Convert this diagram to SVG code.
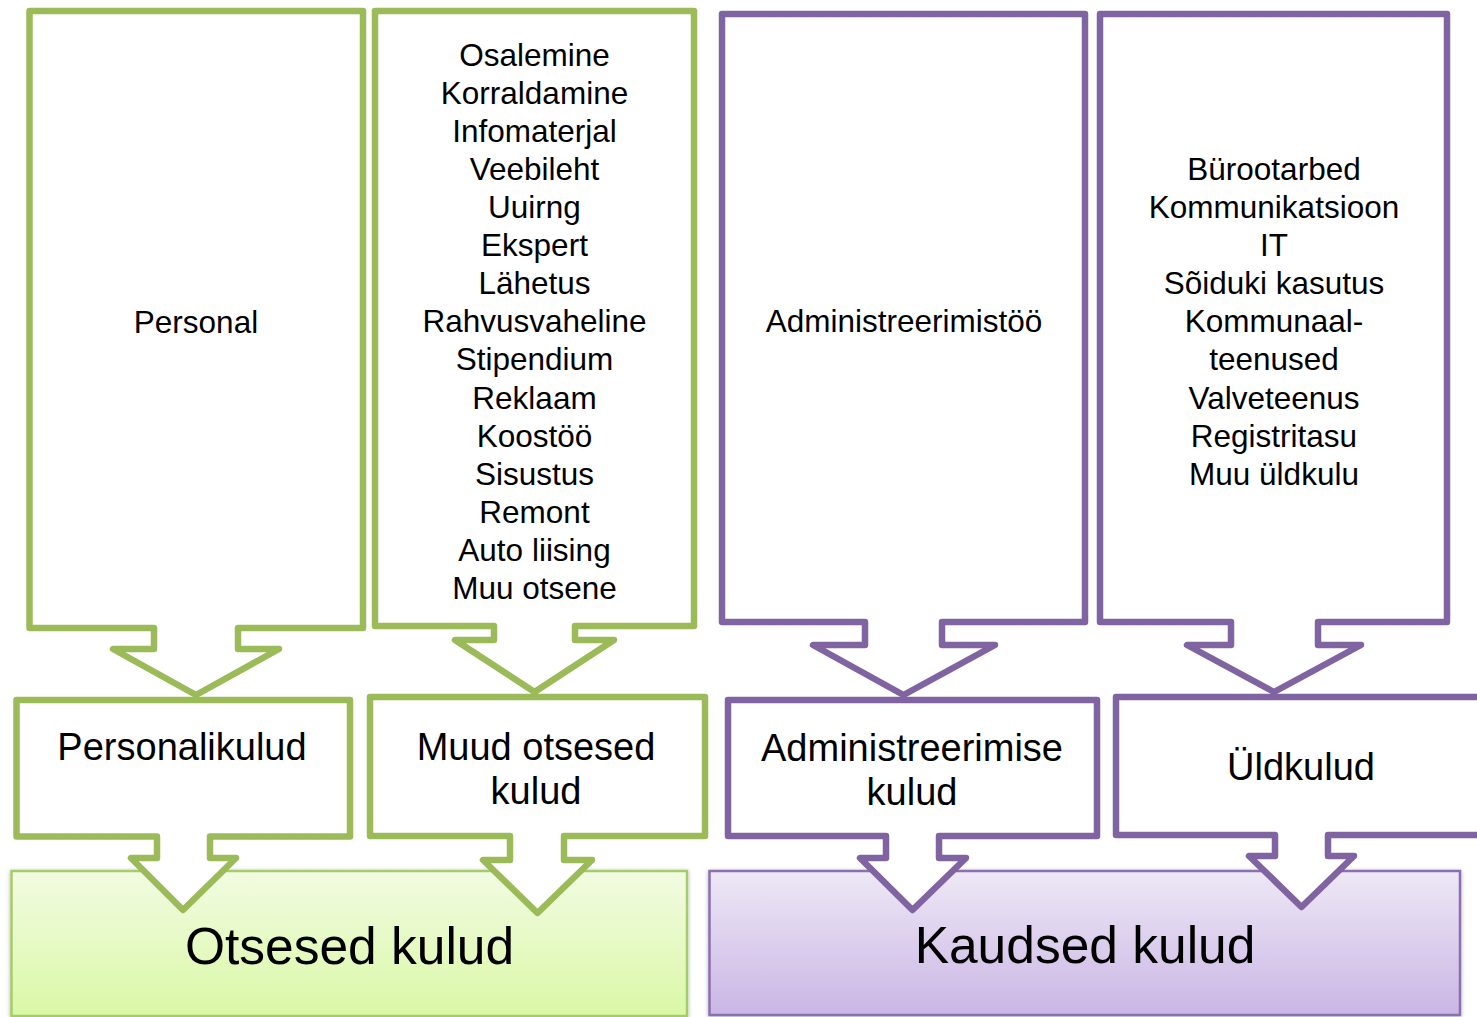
<svg xmlns="http://www.w3.org/2000/svg" width="1477" height="1017" viewBox="0 0 1477 1017">
<defs>
<linearGradient id="gGreen" x1="0" y1="0" x2="0" y2="1">
<stop offset="0" stop-color="#F2FBE2"/>
<stop offset="1" stop-color="#DAF8A6"/>
</linearGradient>
<linearGradient id="gPurple" x1="0" y1="0" x2="0" y2="1">
<stop offset="0" stop-color="#EEE8F6"/>
<stop offset="1" stop-color="#CAB6E5"/>
</linearGradient>
<filter id="shadow" x="-5%" y="-10%" width="110%" height="120%">
<feDropShadow dx="0" dy="1" stdDeviation="2" flood-color="#000" flood-opacity="0.3"/>
</filter>
</defs>
<style>
.cg{fill:#FFFFFF;stroke:#9BBB59;stroke-width:6.5;stroke-linejoin:round}
.cp{fill:#FFFFFF;stroke:#8064A2;stroke-width:6.5;stroke-linejoin:round}
.t{font-family:"Liberation Sans",Arial,sans-serif;fill:#000;text-anchor:middle}
.s{font-size:31.5px}
.m{font-size:38px}
.l{font-size:51.5px}
</style>
<rect width="1477" height="1017" fill="#FFFFFF"/>
<g id="otsesed-kulud">
<rect x="11.5" y="871" width="675.5" height="145" fill="url(#gGreen)" stroke="#A6CC6A" stroke-width="2.5" filter="url(#shadow)"/>
<text class="t l" x="349.5" y="964">Otsesed kulud</text>
</g>
<g id="kaudsed-kulud">
<rect x="709.5" y="871" width="750.5" height="144" fill="url(#gPurple)" stroke="#8B6FB0" stroke-width="2.5" filter="url(#shadow)"/>
<text class="t l" x="1085" y="963">Kaudsed kulud</text>
</g>
<g id="personal">
<path class="cg" d="M29.5,11 H363 V628 H238 V649 H279 L196,695 L113,649 H154 V628 H29.5 Z"/>
<text class="t s" x="196" y="333">Personal</text>
</g>
<g id="muud-list">
<path class="cg" d="M375,11 H694 V626 H575 V640 H614 L534.5,692 L455,640 H494 V626 H375 Z"/>
<text class="t s"><tspan x="534.5" y="66">Osalemine</tspan><tspan x="534.5" y="104">Korraldamine</tspan><tspan x="534.5" y="142">Infomaterjal</tspan><tspan x="534.5" y="180">Veebileht</tspan><tspan x="534.5" y="218">Uuirng</tspan><tspan x="534.5" y="256">Ekspert</tspan><tspan x="534.5" y="294">Lähetus</tspan><tspan x="534.5" y="332">Rahvusvaheline</tspan><tspan x="534.5" y="370">Stipendium</tspan><tspan x="534.5" y="409">Reklaam</tspan><tspan x="534.5" y="447">Koostöö</tspan><tspan x="534.5" y="485">Sisustus</tspan><tspan x="534.5" y="523">Remont</tspan><tspan x="534.5" y="561">Auto liising</tspan><tspan x="534.5" y="599">Muu otsene</tspan></text>
</g>
<g id="administreerimistoo">
<path class="cp" d="M722,14 H1085 V622 H942 V645 H995 L903.5,695 L813,645 H865 V622 H722 Z"/>
<text class="t s" x="904" y="332">Administreerimistöö</text>
</g>
<g id="yldkulu-list">
<path class="cp" d="M1100,14 H1447 V622 H1318 V645 H1361 L1274,692 L1187,645 H1231 V622 H1100 Z"/>
<text class="t s"><tspan x="1274" y="180">Bürootarbed</tspan><tspan x="1274" y="218">Kommunikatsioon</tspan><tspan x="1274" y="256">IT</tspan><tspan x="1274" y="294">Sõiduki kasutus</tspan><tspan x="1274" y="332">Kommunaal-</tspan><tspan x="1274" y="370">teenused</tspan><tspan x="1274" y="409">Valveteenus</tspan><tspan x="1274" y="447">Registritasu</tspan><tspan x="1274" y="485">Muu üldkulu</tspan></text>
</g>
<g id="personalikulud">
<path class="cg" d="M16.5,700 H350 V836.5 H210 V858 H236 L183,910 L131,858 H157 V836.5 H16.5 Z"/>
<text class="t m" x="182" y="760">Personalikulud</text>
</g>
<g id="muud-otsesed-kulud">
<path class="cg" d="M370,697 H705 V836 H564 V860 H592 L537.5,913 L483,860 H510 V836 H370 Z"/>
<text class="t m"><tspan x="536" y="760">Muud otsesed</tspan><tspan x="536" y="804">kulud</tspan></text>
</g>
<g id="administreerimise-kulud">
<path class="cp" d="M728,700 H1097 V836 H939 V858 H966 L912.5,910 L860,858 H886 V836 H728 Z"/>
<text class="t m"><tspan x="912" y="761">Administreerimise</tspan><tspan x="912" y="805">kulud</tspan></text>
</g>
<g id="yldkulud">
<path class="cp" d="M1116,697 H1490 V835 H1328 V856 H1354 L1301.5,907 L1249,856 H1275 V835 H1116 Z"/>
<text class="t m" x="1301" y="780">Üldkulud</text>
</g>
</svg>
